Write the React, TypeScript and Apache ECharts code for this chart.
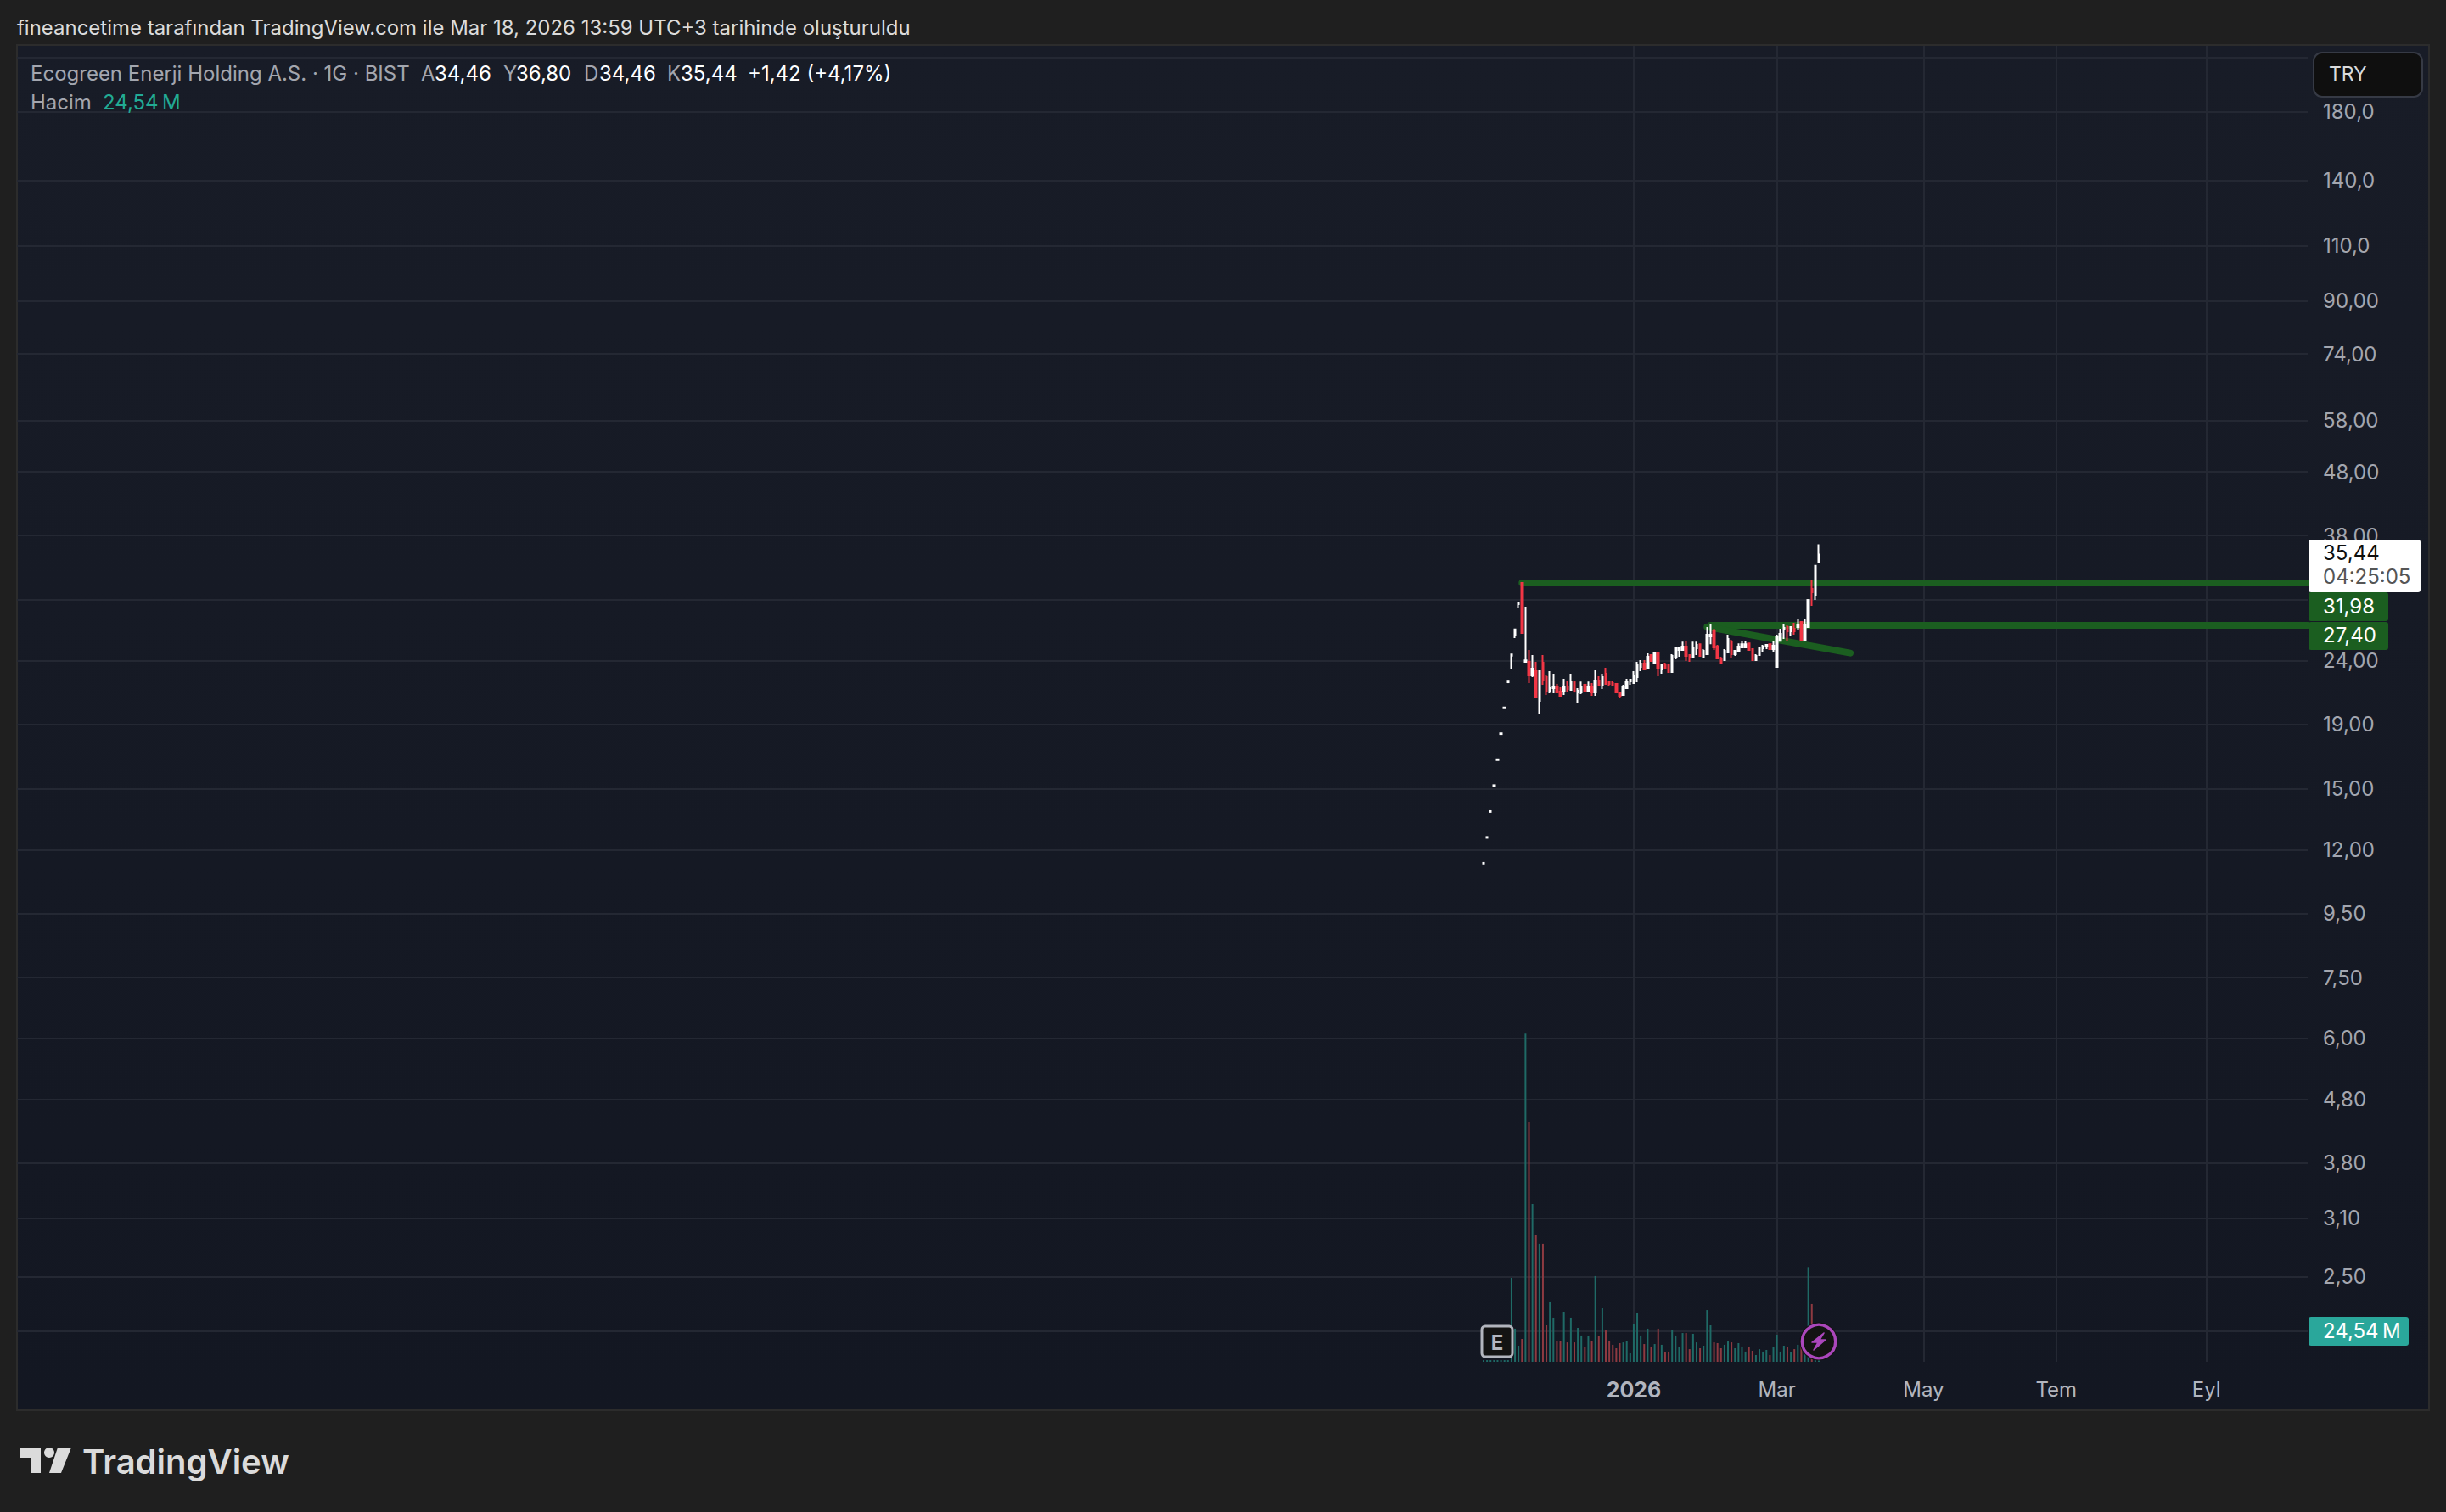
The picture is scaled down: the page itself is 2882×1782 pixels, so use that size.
import React, { useEffect, useRef } from 'react';
import * as echarts from 'echarts';

// daily candles, first traded day sits at slot 420 of the time axis
const firstSlot = 420;
const slotCount = 657;

const opens = [
  11.4, 12.53, 13.78, 15.15, 16.67, 18.34, 20.16, 22.18, 24.46, 26.33, 29.54, 31.93, 23.9, 23.9, 22.74, 23.1, 20.71,
  23.83, 22.6, 21.43, 21.7, 21.77, 21.43, 21.43, 21.77, 21.57, 22.18, 21.37, 21.37, 21.98, 21.5, 21.77, 21.37, 22.32,
  21.98, 22.88, 22.18, 22.11, 22.04, 21.37, 21.17, 21.7, 22.25, 22.11, 22.6, 23.46, 23.76, 23.36, 24.51, 23.76, 24.74,
  23.24, 23.61, 23.68, 23.03, 24.36, 24.97, 24.97, 25.28, 24.51, 24.28, 25.12, 25.51, 24.36, 24.58, 26.24, 26.82,
  25.28, 24.13, 24.05, 24.74, 25.75, 24.58, 24.81, 25.2, 25.2, 25.59, 25.05, 24.05, 24.51, 25.12, 25.28, 25.51, 25.05,
  23.46, 25.83, 26.9, 27.16, 26.74, 26.99, 27.16, 27.67, 25.92, 27.16, 31.24, 30.57, 34.46,
];
const closes = [
  11.43, 12.57, 13.82, 15.2, 16.72, 18.39, 20.22, 22.24, 24.56, 26.92, 29.7, 26.58, 24.03, 22.74, 23.31, 20.97, 23.1,
  22.32, 21.43, 21.7, 21.84, 21.37, 21.1, 21.77, 21.64, 22.18, 21.43, 21.5, 21.77, 21.5, 21.77, 21.37, 22.32, 21.91,
  22.6, 22.04, 22.04, 21.98, 21.37, 21.1, 21.77, 22.18, 22.39, 22.67, 23.61, 23.76, 23.24, 24.36, 23.98, 24.74, 23.39,
  23.61, 23.39, 23.03, 24.43, 25.2, 25.12, 25.28, 24.43, 24.28, 25.2, 25.44, 24.43, 24.89, 26.41, 26.41, 25.2, 24.2,
  23.83, 24.89, 26.0, 24.58, 24.89, 25.28, 25.51, 25.51, 24.97, 24.05, 24.43, 25.2, 25.28, 25.44, 25.05, 25.36, 26.16,
  26.49, 27.07, 26.74, 27.16, 26.74, 27.33, 25.92, 27.33, 30.0, 30.86, 34.02, 35.44,
];
const lows = [
  11.4, 12.53, 13.78, 15.15, 16.67, 18.34, 20.16, 22.18, 23.24, 26.08, 29.08, 26.58, 23.9, 22.11, 22.6, 20.97, 19.77,
  21.98, 21.17, 21.3, 21.3, 21.37, 20.97, 21.17, 21.43, 21.57, 21.43, 20.58, 21.24, 21.5, 21.43, 21.1, 21.1, 21.91,
  21.64, 22.04, 21.91, 21.91, 21.37, 20.91, 21.1, 21.7, 21.98, 22.11, 22.18, 23.1, 23.24, 23.31, 23.98, 23.68, 22.67,
  22.88, 23.31, 22.95, 23.03, 24.13, 24.36, 24.89, 23.98, 23.9, 24.28, 24.51, 24.36, 24.2, 24.51, 25.51, 24.97, 24.13,
  23.76, 24.05, 24.66, 24.28, 24.43, 24.74, 25.12, 25.2, 24.89, 24.05, 23.98, 24.51, 24.81, 25.05, 25.05, 24.74, 23.46,
  25.83, 26.0, 25.83, 26.24, 26.41, 26.9, 25.92, 25.92, 27.16, 29.36, 30.0, 34.46,
];
const highs = [
  11.43, 12.57, 13.82, 15.2, 16.72, 18.39, 20.22, 22.24, 24.56, 26.92, 29.7, 32.03, 29.26, 24.97, 24.51, 23.9, 23.1,
  24.51, 22.74, 23.1, 22.88, 22.04, 21.77, 22.46, 22.25, 22.88, 22.18, 21.7, 22.23, 21.98, 22.23, 22.11, 23.17, 22.67,
  22.88, 23.39, 22.25, 22.25, 22.11, 21.43, 21.98, 22.46, 22.39, 23.1, 23.9, 24.05, 24.05, 24.66, 24.51, 24.74, 24.74,
  23.76, 23.83, 23.68, 24.58, 25.2, 25.2, 25.75, 25.83, 24.51, 25.75, 25.75, 25.59, 25.05, 27.16, 27.41, 26.99, 25.44,
  24.36, 25.05, 26.41, 25.92, 24.97, 25.59, 25.83, 25.83, 25.67, 25.12, 24.58, 25.28, 25.44, 25.51, 25.59, 25.83,
  26.41, 26.99, 27.41, 27.33, 27.16, 27.58, 27.93, 27.67, 27.93, 30.0, 32.23, 33.98, 36.8,
];

// volume in millions, negative = down day colour
const volumes = [
  1.3, 1.3, 1.3, 1.3, 1.3, 1.3, 1.3, 1.3, 65.6, 25.9, 12.6, -17.9, 256.4, -187.6, 123.3, -98.8, 92.2, -92.2, -28.5,
  47.1, 34.5, -16.6, -15.9, 39.1, -15.2, 34.5, -15.2, 26.5, 20.6, -11.9, 19.9, -15.9, 67.0, -19.9, 42.4, -24.5, -16.6,
  -13.3, -10.6, -14.6, 15.2, 15.9, 6.6, 29.2, 37.8, 20.6, -13.9, 25.9, -11.3, 13.9, -25.9, 13.3, -7.3, -8.0, 25.2,
  20.6, 11.9, 22.5, -22.5, -9.9, 21.9, 15.2, -10.6, 12.6, 40.4, 28.5, -15.2, -14.6, -10.6, 13.3, 15.9, -15.2, 10.6,
  14.6, 11.3, 8.0, -11.3, -8.6, 5.3, 9.9, 8.0, 9.3, -5.3, 11.3, 21.2, 8.0, 12.6, -11.3, 7.3, -9.9, 13.3, -15.0, 24.0,
  74.0, -45.1, 28.0, 24.54,
];

const priceTicks = [
  220, 180, 140, 110, 90, 74, 58, 48, 38, 30, 24, 19, 15, 12, 9.5, 7.5, 6, 4.8, 3.8, 3.1, 2.5, 2.05,
];
const hiddenPriceLabels = [220, 30, 2.05]; // sit behind the TRY box and the value tags

const timeTickSlots = [463, 504, 546, 584, 627];
const timeTickLabels = ['2026', 'Mar', 'May', 'Tem', 'Eyl'];

const resistanceLine = { from: 431, to: 656, price: 31.98 };
const supportLine = { from: 485, to: 656, price: 27.36 };
const trendLine = { from: 484, to: 525, priceFrom: 27.17, priceTo: 24.69 };

const font = 'Inter, "Noto Sans", sans-serif';
const paneBorder = '#2C2C2C';
const gridColor = '#242833';
const white = '#FFFFFF';
const red = '#F23645';
const drawingGreen = '#1B5E20';
const volumeTeal = '#2AA79B';
const muted = '#A3A6AF';
const logoGrey = '#DBDBDB';

const fmtPrice = (v: number) => (v >= 100 ? v.toFixed(1) : v.toFixed(2)).replace('.', ',');

const slotName = (i: number) => `d${i}`;

function label(text: string, x: number, y: number, fill: string, size = 24, weight = 400, align = 'left', z = 120) {
  return {
    type: 'text',
    z,
    silent: true,
    style: {
      text,
      x,
      y,
      fill,
      font: `${weight} ${size}px ${font}`,
      align,
      verticalAlign: 'middle',
      textAlign: align,
      textVerticalAlign: 'middle',
    },
  };
}

function box(x: number, y: number, width: number, height: number, fill: string, r = 3, z = 110, stroke?: string, lineWidth = 0) {
  return {
    type: 'rect',
    z,
    silent: true,
    shape: { x, y, width, height, r },
    style: { fill, stroke, lineWidth },
  };
}

const App: React.FC = () => {
  const chartRef = useRef<HTMLDivElement>(null);

  useEffect(() => {
    if (!chartRef.current) return;
    const chart = echarts.init(chartRef.current, undefined, { renderer: 'svg' });

    const categories = Array.from({ length: slotCount }, (_, i) => slotName(i));
    const isTimeTick = (i: number) => timeTickSlots.includes(i);

    const candleRows = opens.map((o, i) => [slotName(firstSlot + i), o, closes[i], lows[i], highs[i]]);
    const volumeRows = volumes.map((v, i) => ({
      value: [slotName(firstSlot + i), Math.abs(v)],
      itemStyle: { color: v < 0 ? '#8E3A41' : '#1F6A66' },
    }));

    const option = {
      animation: false,
      backgroundColor: '#1F1F1F',
      textStyle: { fontFamily: font },
      grid: { left: 20, top: 54, width: 2699, height: 1551, containLabel: false },
      xAxis: {
        type: 'category',
        data: categories,
        boundaryGap: false,
        axisLine: { show: false },
        axisTick: { show: false },
        splitLine: {
          show: true,
          interval: (i: number) => isTimeTick(i),
          lineStyle: { color: gridColor, width: 2 },
        },
        axisLabel: {
          interval: (i: number) => isTimeTick(i),
          margin: 20,
          hideOverlap: false,
          color: '#B2B5BE',
          fontFamily: font,
          fontSize: 24,
          formatter: (_: string, i: number) => {
            const at = timeTickSlots.indexOf(i);
            if (at < 0) return '';
            return at === 0 ? `{year|${timeTickLabels[at]}}` : timeTickLabels[at];
          },
          rich: { year: { fontWeight: 700, fontSize: 25, color: '#B2B5BE', fontFamily: font } },
        },
      },
      yAxis: [
        {
          type: 'log',
          logBase: 10,
          min: 1.831,
          max: 229.3,
          position: 'right',
          axisLine: { show: false },
          axisTick: { show: false, customValues: priceTicks },
          splitLine: { show: true, lineStyle: { color: gridColor, width: 2 } },
          axisLabel: {
            customValues: priceTicks.filter((v) => !hiddenPriceLabels.includes(v)),
            margin: 18,
            align: 'left',
            color: muted,
            fontFamily: font,
            fontSize: 24,
            formatter: (v: number) => fmtPrice(v),
          },
        },
        {
          type: 'value',
          min: 0,
          max: 1028,
          show: false,
          splitLine: { show: false },
        },
      ],
      series: [
        {
          type: 'bar',
          name: 'Hacim',
          yAxisIndex: 1,
          barWidth: 2,
          data: volumeRows,
          encode: { x: 0, y: 1 },
          silent: true,
        },
        {
          type: 'candlestick',
          name: 'Ecogreen Enerji Holding A.S.',
          yAxisIndex: 0,
          barWidth: 2,
          data: candleRows,
          encode: { x: 0, y: [1, 2, 3, 4] },
          silent: true,
          itemStyle: {
            color: white,
            color0: red,
            borderColor: white,
            borderColor0: red,
            borderColorDoji: white,
            borderWidth: 2,
          },
          markLine: {
            silent: true,
            symbol: 'none',
            z: 1,
            label: { show: false },
            lineStyle: { color: drawingGreen, width: 8, type: 'solid', cap: 'round' },
            data: [
              [
                { coord: [resistanceLine.from, resistanceLine.price] },
                { coord: [resistanceLine.to, resistanceLine.price] },
              ],
              [{ coord: [supportLine.from, supportLine.price] }, { coord: [supportLine.to, supportLine.price] }],
              [{ coord: [trendLine.from, trendLine.priceFrom] }, { coord: [trendLine.to, trendLine.priceTo] }],
            ],
          },
        },
      ],
      graphic: [
        {
          type: 'rect',
          z: -100,
          silent: true,
          shape: { x: 20, y: 53, width: 2842, height: 1609 },
          style: {
            fill: new echarts.graphic.LinearGradient(0, 0, 0, 1, [
              { offset: 0, color: '#181C27' },
              { offset: 1, color: '#131722' },
            ]),
            stroke: paneBorder,
            lineWidth: 2,
          },
        },
        label('fineancetime tarafından TradingView.com ile Mar 18, 2026 13:59 UTC+3 tarihinde oluşturuldu', 20, 32, logoGrey, 23.97),
        label('Ecogreen Enerji Holding A.S. · 1G · BIST', 36, 86, muted),
        label('A', 496, 86, muted),
        label('34,46', 512, 86, white),
        label('Y', 593, 86, muted),
        label('36,80', 608, 86, white),
        label('D', 688, 86, muted),
        label('34,46', 706, 86, white),
        label('K', 786, 86, muted),
        label('35,44', 802, 86, white),
        label('+1,42 (+4,17%)', 881, 86, white),
        label('Hacim', 36, 120, muted),
        label('24,54\u2009M', 121, 120, '#22AB94'),
        // currency box
        box(2726, 62, 128, 52, '#0F0F0F', 10, 110, '#363A45', 2),
        label('TRY', 2744, 87, logoGrey, 23),
        // price tags
        box(2720, 636, 132, 62, white),
        label('35,44', 2737, 651, '#0F0F0F'),
        label('04:25:05', 2737, 679, '#555555'),
        box(2720, 698, 94, 34, drawingGreen),
        label('31,98', 2737, 714, white),
        box(2720, 733, 94, 33, drawingGreen),
        label('27,40', 2737, 748, white),
        box(2720, 1552, 118, 34, volumeTeal),
        label('24,54\u2009M', 2737, 1568, white),
        // earnings badge
        box(1746, 1563, 36, 36, '#131313', 4, 110, '#B2B5BE', 3),
        label('E', 1764, 1582, '#B2B5BE', 24, 700, 'center'),
        // lightning badge
        {
          type: 'circle',
          z: 110,
          silent: true,
          shape: { cx: 2143, cy: 1581, r: 22.5 },
          style: { fill: '#131313' },
        },
        {
          type: 'circle',
          z: 111,
          silent: true,
          shape: { cx: 2143, cy: 1581, r: 19.7 },
          style: { fill: '#131313', stroke: '#AB47BC', lineWidth: 3.4 },
        },
        {
          type: 'polygon',
          z: 112,
          silent: true,
          shape: {
            points: [
              [2149, 1571],
              [2135, 1582],
              [2142, 1582],
              [2137, 1591],
              [2151, 1579],
              [2144, 1579],
            ],
          },
          style: { fill: '#AB47BC', stroke: '#AB47BC', lineWidth: 1.5, lineJoin: 'round' },
        },
        // TradingView logo
        {
          type: 'polygon',
          z: 110,
          silent: true,
          shape: {
            points: [
              [24, 1706],
              [48, 1706],
              [48, 1736],
              [36, 1736],
              [36, 1718],
              [24, 1718],
            ],
          },
          style: { fill: logoGrey },
        },
        {
          type: 'circle',
          z: 110,
          silent: true,
          shape: { cx: 58, cy: 1712, r: 6 },
          style: { fill: logoGrey },
        },
        {
          type: 'polygon',
          z: 110,
          silent: true,
          shape: {
            points: [
              [68, 1706],
              [84, 1706],
              [72, 1736],
              [58, 1736],
            ],
          },
          style: { fill: logoGrey },
        },
        label('TradingView', 97, 1722, logoGrey, 40, 600),
      ],
    };

    chart.setOption(option);

    return () => {
      chart.dispose();
    };
  }, []);

  return <div ref={chartRef} style={{ position: 'absolute', left: 0, top: 0, width: 2882, height: 1782 }} />;
};

export default App;
